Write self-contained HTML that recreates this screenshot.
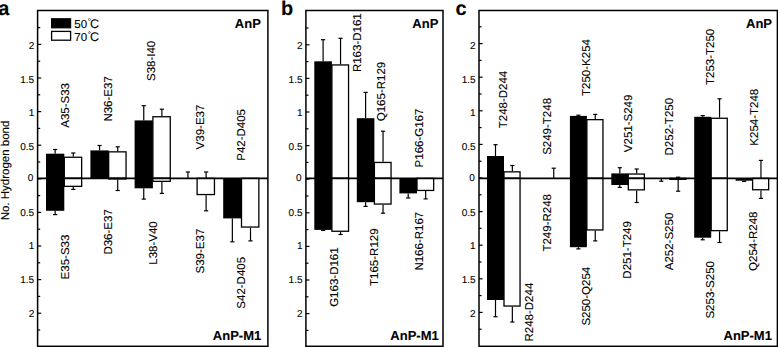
<!DOCTYPE html>
<html><head><meta charset="utf-8"><style>
html,body{margin:0;padding:0;background:#fff;}
body{width:778px;height:347px;overflow:hidden;}
svg{display:block;}
text{text-rendering:geometricPrecision;font-family:"Liberation Sans",sans-serif;fill:#000;stroke:#000;stroke-width:0.1px;}
.fr{fill:none;stroke:#000;stroke-width:1.5;}
.t{stroke:#000;stroke-width:1.2;}
.z{stroke:#000;stroke-width:1.7;}
.e{stroke:#000;stroke-width:1.2;}
.w{fill:#fff;stroke:#000;stroke-width:1.3;}
.tl{font-size:10.0px;text-anchor:end;}
.rl{font-size:11.5px;text-anchor:middle;}
.bd{font-size:13px;font-weight:bold;text-anchor:end;}
.bm{font-size:12.75px;}
.let{font-size:20px;font-weight:bold;}
.lg{font-size:11.5px;}
.deg{font-size:8px;}
.cc{font-size:12.6px;}
.yt{font-size:11.5px;text-anchor:middle;}
</style></head><body>
<svg width="778" height="347" viewBox="0 0 778 347">
<rect x="37.6" y="10.5" width="230.3" height="335.8" class="fr"/>
<line x1="37.6" y1="330" x2="40.2" y2="330" class="t"/>
<line x1="37.6" y1="313.2" x2="41.2" y2="313.2" class="t"/>
<text x="34.2" y="317.4" class="tl">2</text>
<line x1="37.6" y1="296.4" x2="40.2" y2="296.4" class="t"/>
<line x1="37.6" y1="279.6" x2="41.2" y2="279.6" class="t"/>
<text x="34.2" y="283.2" class="tl">1.5</text>
<line x1="37.6" y1="262.8" x2="40.2" y2="262.8" class="t"/>
<line x1="37.6" y1="246" x2="41.2" y2="246" class="t"/>
<text x="34.2" y="248.8" class="tl">1</text>
<line x1="37.6" y1="229.2" x2="40.2" y2="229.2" class="t"/>
<line x1="37.6" y1="212.4" x2="41.2" y2="212.4" class="t"/>
<text x="34.2" y="216.2" class="tl">0.5</text>
<line x1="37.6" y1="195.6" x2="40.2" y2="195.6" class="t"/>
<line x1="37.6" y1="178.8" x2="41.2" y2="178.8" class="t"/>
<text x="33.3" y="180.9" class="tl">0</text>
<line x1="37.6" y1="162" x2="40.2" y2="162" class="t"/>
<line x1="37.6" y1="145.2" x2="41.2" y2="145.2" class="t"/>
<text x="34.2" y="150.2" class="tl">0.5</text>
<line x1="37.6" y1="128.4" x2="40.2" y2="128.4" class="t"/>
<line x1="37.6" y1="111.6" x2="41.2" y2="111.6" class="t"/>
<text x="34.2" y="116.1" class="tl">1</text>
<line x1="37.6" y1="94.8" x2="40.2" y2="94.8" class="t"/>
<line x1="37.6" y1="78" x2="41.2" y2="78" class="t"/>
<text x="34.2" y="83.2" class="tl">1.5</text>
<line x1="37.6" y1="61.2" x2="40.2" y2="61.2" class="t"/>
<line x1="37.6" y1="44.4" x2="41.2" y2="44.4" class="t"/>
<text x="34.2" y="48.8" class="tl">2</text>
<line x1="37.6" y1="27.6" x2="40.2" y2="27.6" class="t"/>
<rect x="46" y="153.7" width="18.3" height="24.65" fill="#000"/>
<line x1="55.15" y1="153.7" x2="55.15" y2="149.5" class="e"/>
<line x1="53.05" y1="149.5" x2="57.25" y2="149.5" class="e"/>
<rect x="64.3" y="157.25" width="17.35" height="21.1" class="w"/>
<line x1="73.3" y1="156.6" x2="73.3" y2="153" class="e"/>
<line x1="71.2" y1="153" x2="75.4" y2="153" class="e"/>
<rect x="46" y="178.35" width="18.3" height="32.45" fill="#000"/>
<line x1="55.15" y1="210.8" x2="55.15" y2="214.6" class="e"/>
<line x1="53.05" y1="214.6" x2="57.25" y2="214.6" class="e"/>
<rect x="64.3" y="178.35" width="17.35" height="8" class="w"/>
<line x1="73.3" y1="187" x2="73.3" y2="189.4" class="e"/>
<line x1="71.2" y1="189.4" x2="75.4" y2="189.4" class="e"/>
<rect x="90.4" y="150.4" width="18.3" height="27.95" fill="#000"/>
<line x1="99.55" y1="150.4" x2="99.55" y2="145.5" class="e"/>
<line x1="97.45" y1="145.5" x2="101.65" y2="145.5" class="e"/>
<rect x="108.7" y="151.85" width="17.35" height="26.5" class="w"/>
<line x1="117.7" y1="151.2" x2="117.7" y2="146.8" class="e"/>
<line x1="115.6" y1="146.8" x2="119.8" y2="146.8" class="e"/>
<rect x="108.7" y="178.35" width="17.35" height="0.6" class="w"/>
<line x1="117.7" y1="179.6" x2="117.7" y2="190.5" class="e"/>
<line x1="115.6" y1="190.5" x2="119.8" y2="190.5" class="e"/>
<rect x="134.6" y="120.4" width="18.3" height="57.95" fill="#000"/>
<line x1="143.75" y1="120.4" x2="143.75" y2="105.7" class="e"/>
<line x1="141.65" y1="105.7" x2="145.85" y2="105.7" class="e"/>
<rect x="152.9" y="116.75" width="17.35" height="61.6" class="w"/>
<line x1="161.9" y1="116.1" x2="161.9" y2="109.2" class="e"/>
<line x1="159.8" y1="109.2" x2="164" y2="109.2" class="e"/>
<rect x="134.6" y="178.35" width="18.3" height="9.95" fill="#000"/>
<line x1="143.75" y1="188.3" x2="143.75" y2="199.1" class="e"/>
<line x1="141.65" y1="199.1" x2="145.85" y2="199.1" class="e"/>
<rect x="152.9" y="178.35" width="17.35" height="3" class="w"/>
<line x1="161.9" y1="182" x2="161.9" y2="193.4" class="e"/>
<line x1="159.8" y1="193.4" x2="164" y2="193.4" class="e"/>
<line x1="187.95" y1="178.35" x2="187.95" y2="172" class="e"/>
<line x1="185.85" y1="172" x2="190.05" y2="172" class="e"/>
<line x1="206.1" y1="178.35" x2="206.1" y2="172" class="e"/>
<line x1="204" y1="172" x2="208.2" y2="172" class="e"/>
<rect x="197.1" y="178.35" width="17.35" height="16.2" class="w"/>
<line x1="206.1" y1="195.2" x2="206.1" y2="210.8" class="e"/>
<line x1="204" y1="210.8" x2="208.2" y2="210.8" class="e"/>
<rect x="223.2" y="178.35" width="18.3" height="40.05" fill="#000"/>
<line x1="232.35" y1="218.4" x2="232.35" y2="241.8" class="e"/>
<line x1="230.25" y1="241.8" x2="234.45" y2="241.8" class="e"/>
<rect x="241.5" y="178.35" width="17.35" height="48.7" class="w"/>
<line x1="250.5" y1="227.7" x2="250.5" y2="240.9" class="e"/>
<line x1="248.4" y1="240.9" x2="252.6" y2="240.9" class="e"/>
<line x1="37.6" y1="178.35" x2="267.9" y2="178.35" class="z"/>
<text transform="translate(69.08 105.4) rotate(-90)" class="rl">A35-S33</text>
<text transform="translate(112.1 98.9) rotate(-90)" class="rl">N36-E37</text>
<text transform="translate(155.43 60.9) rotate(-90)" class="rl">S38-I40</text>
<text transform="translate(203.5 127) rotate(-90)" class="rl">V39-E37</text>
<text transform="translate(244.65 134.9) rotate(-90)" class="rl">P42-D405</text>
<text transform="translate(68.8 257) rotate(-90)" class="rl">E35-S33</text>
<text transform="translate(112 231.9) rotate(-90)" class="rl">D36-E37</text>
<text transform="translate(156.6 243) rotate(-90)" class="rl">L38-V40</text>
<text transform="translate(203.6 251.1) rotate(-90)" class="rl">S39-E37</text>
<text transform="translate(244.65 282.8) rotate(-90)" class="rl">S42-D405</text>
<text x="260.8" y="27.7" class="bd">AnP</text>
<text x="261.2" y="339.9" class="bd">AnP-M1</text>
<text x="-1.7" y="14.6" class="let">a</text>
<rect x="305.9" y="10.5" width="137.1" height="335.8" class="fr"/>
<line x1="305.9" y1="330.4" x2="308.5" y2="330.4" class="t"/>
<line x1="305.9" y1="313.6" x2="309.5" y2="313.6" class="t"/>
<text x="302.5" y="317.4" class="tl">2</text>
<line x1="305.9" y1="296.8" x2="308.5" y2="296.8" class="t"/>
<line x1="305.9" y1="280" x2="309.5" y2="280" class="t"/>
<text x="302.5" y="283.2" class="tl">1.5</text>
<line x1="305.9" y1="263.2" x2="308.5" y2="263.2" class="t"/>
<line x1="305.9" y1="246.4" x2="309.5" y2="246.4" class="t"/>
<text x="302.5" y="248.8" class="tl">1</text>
<line x1="305.9" y1="229.6" x2="308.5" y2="229.6" class="t"/>
<line x1="305.9" y1="212.8" x2="309.5" y2="212.8" class="t"/>
<text x="302.5" y="216.2" class="tl">0.5</text>
<line x1="305.9" y1="196" x2="308.5" y2="196" class="t"/>
<line x1="305.9" y1="179.2" x2="309.5" y2="179.2" class="t"/>
<text x="301.6" y="180.9" class="tl">0</text>
<line x1="305.9" y1="162.4" x2="308.5" y2="162.4" class="t"/>
<line x1="305.9" y1="145.6" x2="309.5" y2="145.6" class="t"/>
<text x="302.5" y="150.2" class="tl">0.5</text>
<line x1="305.9" y1="128.8" x2="308.5" y2="128.8" class="t"/>
<line x1="305.9" y1="112" x2="309.5" y2="112" class="t"/>
<text x="302.5" y="116.1" class="tl">1</text>
<line x1="305.9" y1="95.2" x2="308.5" y2="95.2" class="t"/>
<line x1="305.9" y1="78.4" x2="309.5" y2="78.4" class="t"/>
<text x="302.5" y="83.2" class="tl">1.5</text>
<line x1="305.9" y1="61.6" x2="308.5" y2="61.6" class="t"/>
<line x1="305.9" y1="44.8" x2="309.5" y2="44.8" class="t"/>
<text x="302.5" y="48.8" class="tl">2</text>
<line x1="305.9" y1="28" x2="308.5" y2="28" class="t"/>
<rect x="314.3" y="61.3" width="17.6" height="117.05" fill="#000"/>
<line x1="323.1" y1="61.3" x2="323.1" y2="39.7" class="e"/>
<line x1="321" y1="39.7" x2="325.2" y2="39.7" class="e"/>
<rect x="331.9" y="64.95" width="16.65" height="113.4" class="w"/>
<line x1="340.55" y1="64.3" x2="340.55" y2="38.3" class="e"/>
<line x1="338.45" y1="38.3" x2="342.65" y2="38.3" class="e"/>
<rect x="314.3" y="178.35" width="17.6" height="51.55" fill="#000"/>
<line x1="323.1" y1="229.9" x2="323.1" y2="230.4" class="e"/>
<line x1="321" y1="230.4" x2="325.2" y2="230.4" class="e"/>
<rect x="331.9" y="178.35" width="16.65" height="52.9" class="w"/>
<line x1="340.55" y1="231.9" x2="340.55" y2="234.5" class="e"/>
<line x1="338.45" y1="234.5" x2="342.65" y2="234.5" class="e"/>
<rect x="356.8" y="118.2" width="17.6" height="60.15" fill="#000"/>
<line x1="365.6" y1="118.2" x2="365.6" y2="92.4" class="e"/>
<line x1="363.5" y1="92.4" x2="367.7" y2="92.4" class="e"/>
<rect x="374.4" y="162.45" width="16.65" height="15.9" class="w"/>
<line x1="383.05" y1="161.8" x2="383.05" y2="131.2" class="e"/>
<line x1="380.95" y1="131.2" x2="385.15" y2="131.2" class="e"/>
<rect x="356.8" y="178.35" width="17.6" height="23.85" fill="#000"/>
<line x1="365.6" y1="202.2" x2="365.6" y2="206.4" class="e"/>
<line x1="363.5" y1="206.4" x2="367.7" y2="206.4" class="e"/>
<rect x="374.4" y="178.35" width="16.65" height="25.7" class="w"/>
<line x1="383.05" y1="204.7" x2="383.05" y2="213.2" class="e"/>
<line x1="380.95" y1="213.2" x2="385.15" y2="213.2" class="e"/>
<rect x="399.4" y="178.35" width="17.6" height="15.05" fill="#000"/>
<line x1="408.2" y1="193.4" x2="408.2" y2="198" class="e"/>
<line x1="406.1" y1="198" x2="410.3" y2="198" class="e"/>
<rect x="417" y="178.35" width="16.65" height="12.1" class="w"/>
<line x1="425.65" y1="191.1" x2="425.65" y2="198.9" class="e"/>
<line x1="423.55" y1="198.9" x2="427.75" y2="198.9" class="e"/>
<line x1="305.9" y1="178.35" x2="443" y2="178.35" class="z"/>
<text transform="translate(360.85 42.7) rotate(-90)" class="rl">R163-D161</text>
<text transform="translate(385.4 91.5) rotate(-90)" class="rl">Q165-R129</text>
<text transform="translate(422.75 138) rotate(-90)" class="rl">P166-G167</text>
<text transform="translate(338.2 277.1) rotate(-90)" class="rl">G163-D161</text>
<text transform="translate(377.8 257.2) rotate(-90)" class="rl">T165-R129</text>
<text transform="translate(422.65 241.2) rotate(-90)" class="rl">N166-R167</text>
<text x="438.3" y="27.7" class="bd">AnP</text>
<text x="438.7" y="339.9" class="bd">AnP-M1</text>
<text x="280.9" y="14.6" class="let">b</text>
<rect x="479" y="10.5" width="298.4" height="335.8" class="fr"/>
<line x1="479" y1="329.2" x2="481.6" y2="329.2" class="t"/>
<line x1="479" y1="312.4" x2="482.6" y2="312.4" class="t"/>
<text x="475.6" y="317.4" class="tl">2</text>
<line x1="479" y1="295.6" x2="481.6" y2="295.6" class="t"/>
<line x1="479" y1="278.8" x2="482.6" y2="278.8" class="t"/>
<text x="475.6" y="283.2" class="tl">1.5</text>
<line x1="479" y1="262" x2="481.6" y2="262" class="t"/>
<line x1="479" y1="245.2" x2="482.6" y2="245.2" class="t"/>
<text x="475.6" y="248.8" class="tl">1</text>
<line x1="479" y1="228.4" x2="481.6" y2="228.4" class="t"/>
<line x1="479" y1="211.6" x2="482.6" y2="211.6" class="t"/>
<text x="475.6" y="216.2" class="tl">0.5</text>
<line x1="479" y1="194.8" x2="481.6" y2="194.8" class="t"/>
<line x1="479" y1="178" x2="482.6" y2="178" class="t"/>
<text x="474.7" y="180.9" class="tl">0</text>
<line x1="479" y1="161.2" x2="481.6" y2="161.2" class="t"/>
<line x1="479" y1="144.4" x2="482.6" y2="144.4" class="t"/>
<text x="475.6" y="150.2" class="tl">0.5</text>
<line x1="479" y1="127.6" x2="481.6" y2="127.6" class="t"/>
<line x1="479" y1="110.8" x2="482.6" y2="110.8" class="t"/>
<text x="475.6" y="116.1" class="tl">1</text>
<line x1="479" y1="94" x2="481.6" y2="94" class="t"/>
<line x1="479" y1="77.2" x2="482.6" y2="77.2" class="t"/>
<text x="475.6" y="83.2" class="tl">1.5</text>
<line x1="479" y1="60.4" x2="481.6" y2="60.4" class="t"/>
<line x1="479" y1="43.6" x2="482.6" y2="43.6" class="t"/>
<text x="475.6" y="48.8" class="tl">2</text>
<line x1="479" y1="26.8" x2="481.6" y2="26.8" class="t"/>
<rect x="487" y="156" width="17" height="22.35" fill="#000"/>
<line x1="495.5" y1="156" x2="495.5" y2="144.7" class="e"/>
<line x1="493.4" y1="144.7" x2="497.6" y2="144.7" class="e"/>
<rect x="504" y="171.85" width="16.05" height="6.5" class="w"/>
<line x1="512.35" y1="171.2" x2="512.35" y2="165.5" class="e"/>
<line x1="510.25" y1="165.5" x2="514.45" y2="165.5" class="e"/>
<rect x="487" y="178.35" width="17" height="121.65" fill="#000"/>
<line x1="495.5" y1="300" x2="495.5" y2="316.7" class="e"/>
<line x1="493.4" y1="316.7" x2="497.6" y2="316.7" class="e"/>
<rect x="504" y="178.35" width="16.05" height="127.7" class="w"/>
<line x1="512.35" y1="306.7" x2="512.35" y2="322" class="e"/>
<line x1="510.25" y1="322" x2="514.45" y2="322" class="e"/>
<line x1="553.75" y1="178.35" x2="553.75" y2="168.2" class="e"/>
<line x1="551.65" y1="168.2" x2="555.85" y2="168.2" class="e"/>
<rect x="569.9" y="115.9" width="17" height="62.45" fill="#000"/>
<line x1="578.4" y1="115.9" x2="578.4" y2="115.2" class="e"/>
<line x1="576.3" y1="115.2" x2="580.5" y2="115.2" class="e"/>
<rect x="586.9" y="119.65" width="16.05" height="58.7" class="w"/>
<line x1="595.25" y1="119" x2="595.25" y2="114.4" class="e"/>
<line x1="593.15" y1="114.4" x2="597.35" y2="114.4" class="e"/>
<rect x="569.9" y="178.35" width="17" height="68.85" fill="#000"/>
<line x1="578.4" y1="247.2" x2="578.4" y2="248.9" class="e"/>
<line x1="576.3" y1="248.9" x2="580.5" y2="248.9" class="e"/>
<rect x="586.9" y="178.35" width="16.05" height="51.6" class="w"/>
<line x1="595.25" y1="230.6" x2="595.25" y2="240.9" class="e"/>
<line x1="593.15" y1="240.9" x2="597.35" y2="240.9" class="e"/>
<rect x="611.3" y="173.4" width="17" height="4.95" fill="#000"/>
<line x1="619.8" y1="173.4" x2="619.8" y2="167.7" class="e"/>
<line x1="617.7" y1="167.7" x2="621.9" y2="167.7" class="e"/>
<rect x="628.3" y="174.05" width="16.05" height="4.3" class="w"/>
<line x1="636.65" y1="173.4" x2="636.65" y2="169" class="e"/>
<line x1="634.55" y1="169" x2="638.75" y2="169" class="e"/>
<rect x="611.3" y="178.35" width="17" height="6.65" fill="#000"/>
<line x1="619.8" y1="185" x2="619.8" y2="187.4" class="e"/>
<line x1="617.7" y1="187.4" x2="621.9" y2="187.4" class="e"/>
<rect x="628.3" y="178.35" width="16.05" height="11.5" class="w"/>
<line x1="636.65" y1="190.5" x2="636.65" y2="202.5" class="e"/>
<line x1="634.55" y1="202.5" x2="638.75" y2="202.5" class="e"/>
<line x1="678.15" y1="178.35" x2="678.15" y2="177.2" class="e"/>
<line x1="676.05" y1="177.2" x2="680.25" y2="177.2" class="e"/>
<line x1="661.3" y1="178.35" x2="661.3" y2="181.2" class="e"/>
<line x1="659.2" y1="181.2" x2="663.4" y2="181.2" class="e"/>
<rect x="669.8" y="178.35" width="16.05" height="1" class="w"/>
<line x1="678.15" y1="180" x2="678.15" y2="191.2" class="e"/>
<line x1="676.05" y1="191.2" x2="680.25" y2="191.2" class="e"/>
<rect x="694.2" y="116.8" width="17" height="61.55" fill="#000"/>
<line x1="702.7" y1="116.8" x2="702.7" y2="115.6" class="e"/>
<line x1="700.6" y1="115.6" x2="704.8" y2="115.6" class="e"/>
<rect x="711.2" y="118.25" width="16.05" height="60.1" class="w"/>
<line x1="719.55" y1="117.6" x2="719.55" y2="98.8" class="e"/>
<line x1="717.45" y1="98.8" x2="721.65" y2="98.8" class="e"/>
<rect x="694.2" y="178.35" width="17" height="59.35" fill="#000"/>
<line x1="702.7" y1="237.7" x2="702.7" y2="239.8" class="e"/>
<line x1="700.6" y1="239.8" x2="704.8" y2="239.8" class="e"/>
<rect x="711.2" y="178.35" width="16.05" height="52.3" class="w"/>
<line x1="719.55" y1="231.3" x2="719.55" y2="242.5" class="e"/>
<line x1="717.45" y1="242.5" x2="721.65" y2="242.5" class="e"/>
<line x1="760.95" y1="178.35" x2="760.95" y2="160.4" class="e"/>
<line x1="758.85" y1="160.4" x2="763.05" y2="160.4" class="e"/>
<rect x="735.6" y="178.35" width="17" height="2.35" fill="#000"/>
<line x1="744.1" y1="180.7" x2="744.1" y2="181.4" class="e"/>
<line x1="742" y1="181.4" x2="746.2" y2="181.4" class="e"/>
<rect x="752.6" y="178.35" width="16.05" height="11.4" class="w"/>
<line x1="760.95" y1="190.4" x2="760.95" y2="198.4" class="e"/>
<line x1="758.85" y1="198.4" x2="763.05" y2="198.4" class="e"/>
<line x1="479" y1="178.35" x2="777.4" y2="178.35" class="z"/>
<text transform="translate(507.35 99.5) rotate(-90)" class="rl">T248-D244</text>
<text transform="translate(551.35 126.4) rotate(-90)" class="rl">S249-T248</text>
<text transform="translate(590.1 67.5) rotate(-90)" class="rl">T250-K254</text>
<text transform="translate(631.7 123.4) rotate(-90)" class="rl">V251-S249</text>
<text transform="translate(673.2 126.7) rotate(-90)" class="rl">D252-T250</text>
<text transform="translate(714 56.9) rotate(-90)" class="rl">T253-T250</text>
<text transform="translate(757.65 117.2) rotate(-90)" class="rl">K254-T248</text>
<text transform="translate(533.2 312.1) rotate(-90)" class="rl">R248-D244</text>
<text transform="translate(550.95 222.8) rotate(-90)" class="rl">T249-R248</text>
<text transform="translate(589.8 296.2) rotate(-90)" class="rl">S250-Q254</text>
<text transform="translate(631.2 249.9) rotate(-90)" class="rl">D251-T249</text>
<text transform="translate(673.35 241.5) rotate(-90)" class="rl">A252-S250</text>
<text transform="translate(714 289.8) rotate(-90)" class="rl">S253-S250</text>
<text transform="translate(757.4 241.2) rotate(-90)" class="rl">Q254-R248</text>
<text x="772" y="27.7" class="bd">AnP</text>
<text x="771.9" y="339.9" class="bd">AnP-M1</text>
<text x="455.5" y="14.6" class="let">c</text>
<rect x="51.5" y="18.7" width="19.2" height="9.2" fill="#000" stroke="#000" stroke-width="1"/>
<rect x="51.6" y="31.4" width="19" height="8.8" fill="#fff" stroke="#000" stroke-width="1.3"/>
<text x="74.3" y="27.5" class="lg">50<tspan class="deg" dx="0.6" dy="-3.2">°</tspan><tspan class="cc" dy="3.2" dx="-0.9">C</tspan></text>
<text x="74.3" y="40.6" class="lg">70<tspan class="deg" dx="0.6" dy="-3.2">°</tspan><tspan class="cc" dy="3.2" dx="-0.9">C</tspan></text>
<text transform="translate(9.1 170.5) rotate(-90)" class="yt">No. Hydrogen bond</text>
</svg>
</body></html>
